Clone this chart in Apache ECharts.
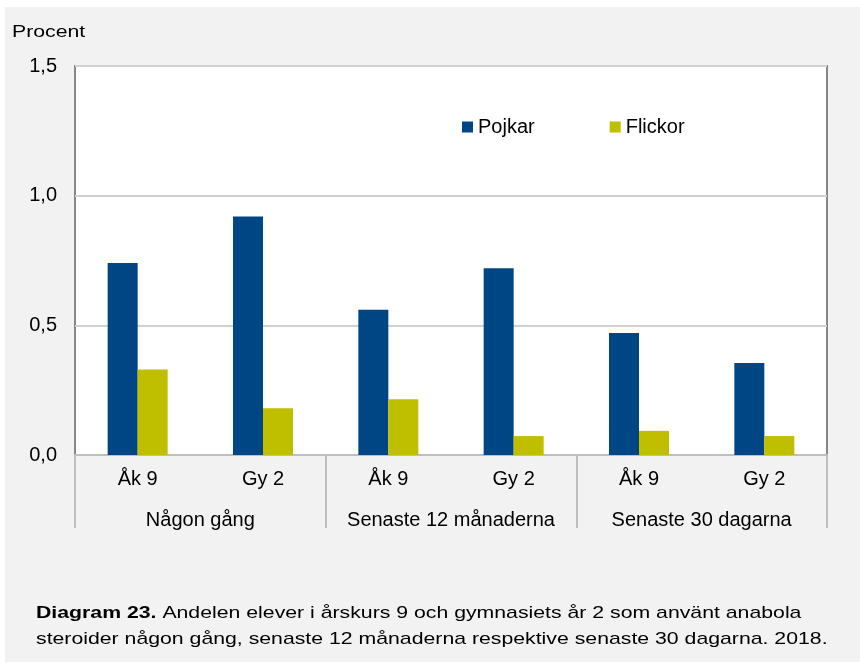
<!DOCTYPE html>
<html>
<head>
<meta charset="utf-8">
<script src="https://cdn.jsdelivr.net/npm/echarts@6/dist/echarts.min.js"></script>
<style>
  html, body { margin: 0; padding: 0; background: #fff; }
  #chart { width: 860px; height: 667px; }
</style>
</head>
<body>
<div id="chart"></div>
<script>
// data
const classes = ['Åk 9', 'Gy 2', 'Åk 9', 'Gy 2', 'Åk 9', 'Gy 2']
const groups = ['Någon gång', 'Senaste 12 månaderna', 'Senaste 30 dagarna']
const pojkar = [0.74, 0.92, 0.56, 0.72, 0.47, 0.355]
const flickor = [0.33, 0.18, 0.215, 0.073, 0.093, 0.073]
const yTicks = [0, 0.5, 1.0, 1.5]

const font = 'Liberation Sans, Arial, sans-serif'
const chart = echarts.init(document.getElementById('chart'))

const option = {
  backgroundColor: '#fff',
  animation: false,
  textStyle: { fontFamily: font },
  graphic: [
    {
      type: 'rect', z: -10, silent: true,
      shape: { x: 5, y: 7, width: 855, height: 655 },
      style: { fill: '#f2f2f2' }
    },
    {
      type: 'text', x: 12, y: 24, scaleX: 1.25,
      style: { text: 'Procent', font: '17px ' + font, fill: '#000' }
    },
    {
      type: 'text', x: 36, y: 600, scaleX: 1.25,
      style: {
        text: '{b|Diagram 23.} Andelen elever i årskurs 9 och gymnasiets år 2 som använt anabola\nsteroider någon gång, senaste 12 månaderna respektive senaste 30 dagarna. 2018.',
        font: '17px ' + font,
        fill: '#000',
        lineHeight: 26,
        rich: {
          b: { fontWeight: 'bold', fontSize: 17, fontFamily: font, fill: '#000', lineHeight: 26 }
        }
      }
    }
  ],
  legend: {
    left: 457, top: 112,
    itemWidth: 11, itemHeight: 11, itemGap: 75,
    icon: 'rect',
    textStyle: { fontSize: 20, color: '#000', fontFamily: font },
    data: ['Pojkar', 'Flickor']
  },
  grid: {
    left: 75, right: 33, top: 66, bottom: 212,
    show: true, backgroundColor: '#fff',
    borderColor: '#868686', borderWidth: 2
  },
  xAxis: [
    {
      type: 'category',
      data: classes,
      axisLine: { lineStyle: { color: '#bfbfbf', width: 2 } },
      axisTick: { show: false },
      axisLabel: { fontSize: 20, color: '#000', margin: 14, interval: 0 }
    },
    {
      type: 'category',
      data: groups,
      position: 'bottom',
      axisLine: { show: false },
      axisTick: { show: true, interval: 0, length: 73, lineStyle: { color: '#bfbfbf', width: 2 } },
      axisLabel: { fontSize: 20, color: '#000', margin: 55, interval: 0 }
    }
  ],
  yAxis: {
    type: 'value',
    min: yTicks[0],
    max: yTicks[yTicks.length - 1],
    interval: 0.5,
    axisLine: { show: false },
    axisTick: { show: false },
    splitLine: { lineStyle: { color: '#d0d0d0', width: 2 } },
    axisLabel: {
      fontSize: 20, color: '#000', margin: 18,
      formatter: v => v.toFixed(1).replace('.', ',')
    }
  },
  series: [
    {
      name: 'Pojkar', type: 'bar', data: pojkar,
      barWidth: 30, barGap: '0%',
      itemStyle: { color: '#004685' }
    },
    {
      name: 'Flickor', type: 'bar', data: flickor,
      barWidth: 30,
      itemStyle: { color: '#bfbf00' }
    }
  ]
}

chart.setOption(option)
</script>
</body>
</html>
